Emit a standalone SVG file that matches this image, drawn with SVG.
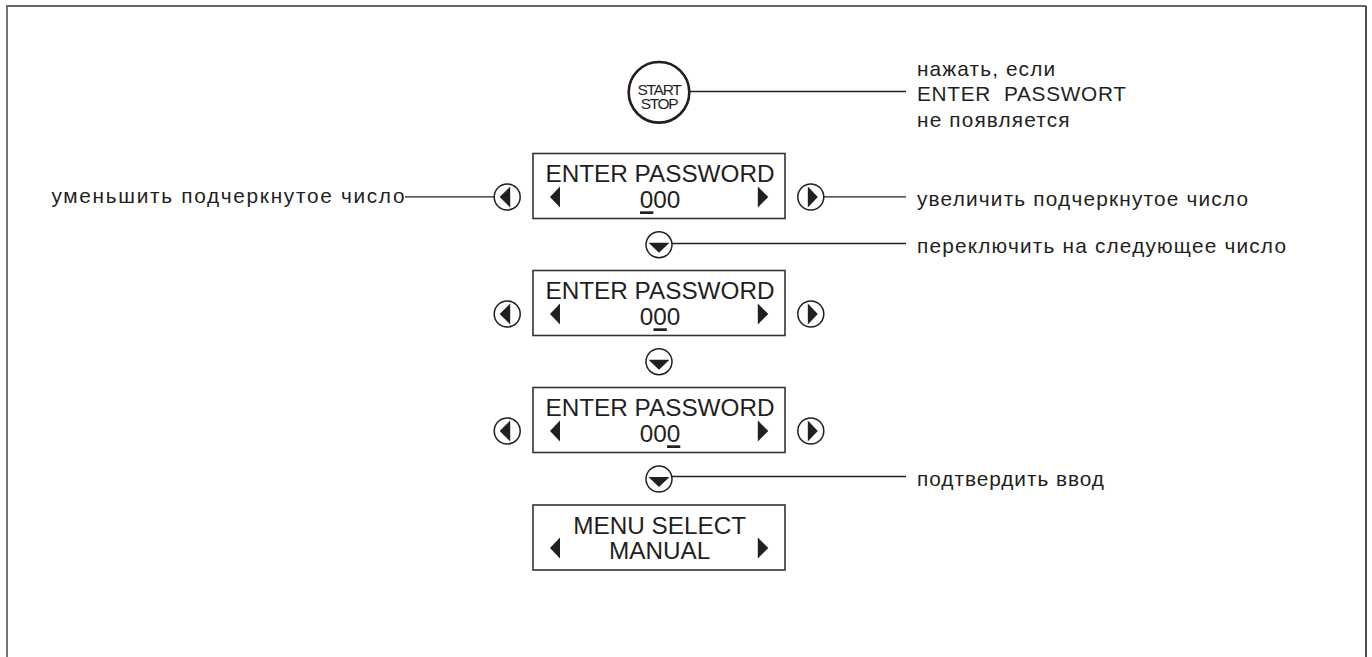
<svg xmlns="http://www.w3.org/2000/svg" width="1372" height="657" viewBox="0 0 1372 657">
<style>
text{font-family:"Liberation Sans",Arial,sans-serif;fill:#231f20}
.lcd{font-size:24.300px;text-anchor:middle}
.lab{font-size:20.800px}
.box{fill:#fff;stroke:#333;stroke-width:1.6}
.btn{fill:#fff;stroke:#231f20;stroke-width:1.5}
.tri{fill:#231f20}
.conn{stroke:#231f20;stroke-width:1.3;fill:none}
.ul{fill:#231f20}
</style>
<defs>
<g id="btnL"><circle class="btn" cx="0" cy="0" r="13"/><polygon class="tri" points="-7.500,0 3,-10.500 3,10.500"/></g>
<g id="btnR"><circle class="btn" cx="0" cy="0" r="13"/><polygon class="tri" points="7,0 -3,-10.500 -3,10.500"/></g>
<g id="btnD"><circle class="btn" cx="0" cy="0" r="13"/><polygon class="tri" points="0,8 -10.500,-2 10.500,-2"/></g>
<polygon id="triL" class="tri" points="0,0 10,-10.500 10,10.500"/>
<polygon id="triR" class="tri" points="10.500,0 0,-10.500 0,10.500"/>
</defs>
<path id="frame" d="M7 657V6H1366" fill="none" stroke="#666" stroke-width="1.8"/>
<path id="frame-right" d="M1366 6V657" fill="none" stroke="#222" stroke-width="1.6"/>
<g id="connectors">
<line class="conn" x1="690" y1="91.500" x2="906" y2="91.500"/>
<line class="conn" x1="405" y1="196.800" x2="494" y2="196.800"/>
<line class="conn" x1="823" y1="196.800" x2="906" y2="196.800"/>
<line class="conn" x1="672" y1="243.500" x2="906" y2="243.500"/>
<line class="conn" x1="672" y1="476.500" x2="906" y2="476.500"/>
</g>
<g id="start-stop"><circle cx="659" cy="92.300" r="30.300" fill="#fff" stroke="#231f20" stroke-width="2.600"/>
<text x="659" y="94.500" font-size="15.500" text-anchor="middle" letter-spacing="-1.300">START</text>
<text x="659" y="109" font-size="15.500" text-anchor="middle" letter-spacing="-1.300">STOP</text></g>
<g id="display-1"><rect class="box" x="533" y="153.500" width="252" height="65"/>
<text class="lcd" x="660" y="181.500">ENTER PASSWORD</text><text class="lcd" x="660" y="207.500">000</text>
<use href="#triL" x="550" y="197"/><use href="#triR" x="757.800" y="197"/><rect class="ul" x="640" y="211.300" width="13.300" height="2.700"/></g>
<g id="display-2"><rect class="box" x="533" y="270.500" width="252" height="65"/>
<text class="lcd" x="660" y="298.500">ENTER PASSWORD</text><text class="lcd" x="660" y="324.500">000</text>
<use href="#triL" x="550" y="314"/><use href="#triR" x="757.800" y="314"/><rect class="ul" x="653.500" y="328.300" width="13.300" height="2.700"/></g>
<g id="display-3"><rect class="box" x="533" y="387.500" width="252" height="65"/>
<text class="lcd" x="660" y="415.500">ENTER PASSWORD</text><text class="lcd" x="660" y="441.500">000</text>
<use href="#triL" x="550" y="431"/><use href="#triR" x="757.800" y="431"/><rect class="ul" x="667" y="445.300" width="13.300" height="2.700"/></g>
<g id="display-4"><rect class="box" x="533" y="505" width="252" height="65"/>
<text class="lcd" x="659.700" y="534">MENU SELECT</text><text class="lcd" x="659.700" y="558.500">MANUAL</text>
<use href="#triL" x="550" y="548"/><use href="#triR" x="757.800" y="548"/></g>
<g id="btn-left-1"><use href="#btnL" x="507.200" y="197"/></g>
<g id="btn-right-1"><use href="#btnR" x="810.800" y="197"/></g>
<g id="btn-down-1"><use href="#btnD" x="659" y="244.800"/></g>
<g id="btn-left-2"><use href="#btnL" x="507.200" y="314"/></g>
<g id="btn-right-2"><use href="#btnR" x="810.800" y="314"/></g>
<g id="btn-down-2"><use href="#btnD" x="659" y="361.700"/></g>
<g id="btn-left-3"><use href="#btnL" x="507.200" y="431"/></g>
<g id="btn-right-3"><use href="#btnR" x="810.800" y="431"/></g>
<g id="btn-down-3"><use href="#btnD" x="659" y="479"/></g>
<g id="labels">
<text class="lab" x="917" y="76" textLength="138" lengthAdjust="spacing">нажать, если</text>
<text class="lab" x="917" y="101" textLength="209" lengthAdjust="spacing" xml:space="preserve">ENTER  PASSWORT</text>
<text class="lab" x="917" y="127" textLength="152.500" lengthAdjust="spacing">не появляется</text>
<text class="lab" x="51.500" y="203" textLength="353" lengthAdjust="spacing">уменьшить подчеркнутое число</text>
<text class="lab" x="917" y="206" textLength="331" lengthAdjust="spacing">увеличить подчеркнутое число</text>
<text class="lab" x="917" y="252.500" textLength="369" lengthAdjust="spacing">переключить на следующее число</text>
<text class="lab" x="917" y="486" textLength="187" lengthAdjust="spacing">подтвердить ввод</text>
</g>
</svg>
